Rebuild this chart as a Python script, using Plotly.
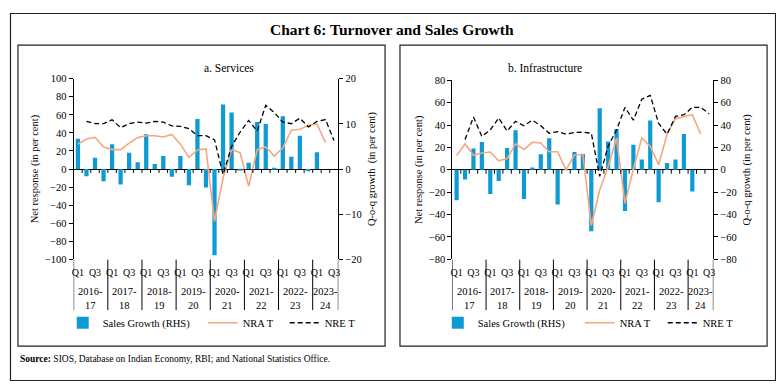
import plotly.graph_objects as go

# ---------------- data ----------------
quarters = ["Q1", "Q2", "Q3", "Q4"] * 7 + ["Q1", "Q2", "Q3"]
years = ["2016-<br>17", "2017-<br>18", "2018-<br>19", "2019-<br>20",
         "2020-<br>21", "2021-<br>22", "2022-<br>23", "2023-<br>24"]

services_sales = [6.7, -1.6, 2.5, -2.7, 5.5, -3.4, 3.6, 1.5, 7.7, 1.1, 2.9, -1.7, 2.9, -3.6, 11.1, -4.1,
                  -19.1, 14.3, 12.5, -0.3, 1.4, 10.4, 10.0, 0.1, 11.7, 2.7, 7.4, -0.5, 3.7, None, None]
services_nra = [27.6, 33.3, 35.1, 24.4, 21.5, 21.5, 28.7, 34.8, 36.9, 36.9, 35.5, 38.4, 27.6, 12.9, 21.1, 22.2,
                -58.0, -10.0, 22.0, 17.9, -19.0, 21.5, 24.4, 14.3, 23.3, 43.0, 44.0, 48.4, 49.8, 29.4, None]
services_nre = [None, 52.7, 50.2, 50.2, 54.5, 45.9, 50.2, 52.0, 50.9, 52.7, 52.0, 47.7, 47.3, 44.8, 36.9, 36.9,
                32.3, -6.0, 25.0, 41.0, 53.8, 42.0, 70.6, 62.7, 52.0, 50.2, 56.3, 46.6, 52.7, 54.8, 31.5]

infra_sales = [-27.2, -8.7, 19.1, 24.9, -21.7, -10.1, 19.4, 35.3, -26.0, 2.0, 13.9, 28.1, -31.0, 0.3, 15.9, 14.2,
               -55.0, 55.0, 25.2, 36.5, -36.7, 22.3, 9.3, 44.0, -28.9, 6.1, 9.3, 32.1, -19.4, None, None]
infra_nra = [12.7, 23.1, 13.0, 15.0, 15.9, 8.1, 10.1, 23.1, 18.2, 24.6, 24.0, 16.2, 16.2, 0.0, 13.3, 13.9,
             -49.8, -18.0, 3.0, 28.4, -30.0, 1.0, 28.4, 21.1, 4.6, 31.8, 45.7, 47.7, 49.2, 31.8, None]
infra_nre = [None, 27.0, 47.2, 29.8, 35.6, 46.3, 34.7, 43.4, 39.4, 44.3, 39.4, 32.7, 34.1, 31.8, 33.3, 33.6,
             32.7, -5.8, 21.1, 35.6, 55.8, 44.3, 63.1, 66.6, 41.4, 31.8, 47.7, 49.2, 55.8, 55.8, 50.0]

BLUE = "#0E9BD3"
ORANGE = "#F5A77F"
FONT = "Liberation Serif"
OFF = 8                       # page margin around the figure
W, H = 784 - OFF, 387 - OFF   # figure size

n = len(quarters)
xs = list(range(n))


def px(x):
    return (x - OFF) / W


def py(y):
    return 1 - (y - OFF) / H


fig = go.Figure()

panels = [
    dict(sales=services_sales, nra=services_nra, nre=services_nre, leg="legend",
         xa="x", ya="y", ya2="y2", dom=[px(72), px(338)], ydom=[py(261.7), py(75.7)],
         lrange=[-100, 100], ldt=20, rrange=[-20, 20], rdt=10, title="a. Services",
         rtitle="Q-o-q growth  (in per cent)", box=[16, 41, 385, 351], legx=61, lw=[95, 37]),
    dict(sales=infra_sales, nra=infra_nra, nre=infra_nre, leg="legend2",
         xa="x2", ya="y3", ya2="y4", dom=[px(452.7), px(715)], ydom=[py(261.7), py(77.3)],
         lrange=[-80, 80], ldt=20, rrange=[-80, 80], rdt=20, title="b. Infrastructure",
         rtitle="Q-o-q growth (in per cent)", box=[400, 41, 769, 351], legx=438, lw=[97, 38]),
]

shapes = []
annotations = []
layout_axes = {}
tfont = dict(family=FONT, size=10.5, color="black")

for i, p in enumerate(panels):
    # bars on RHS axis (primary, drawn underneath), lines on LHS overlaying axis
    fig.add_trace(go.Bar(x=xs, y=p["sales"], name="Sales Growth (RHS)", marker_color=BLUE,
                         marker_line_width=0, width=0.5, xaxis=p["xa"], yaxis=p["ya"],
                         legend=p["leg"], legendwidth=p["lw"][0]))
    fig.add_trace(go.Scatter(x=xs, y=p["nra"], name="NRA T", mode="lines",
                             line=dict(color=ORANGE, width=1.6), xaxis=p["xa"], yaxis=p["ya2"],
                             legend=p["leg"], legendwidth=p["lw"][1]))
    fig.add_trace(go.Scatter(x=xs, y=p["nre"], name="NRE T", mode="lines",
                             line=dict(color="black", width=1.3, dash="5px,3px"), xaxis=p["xa"],
                             yaxis=p["ya2"], legend=p["leg"]))

    xkey = "xaxis" if i == 0 else "xaxis2"
    ykey = "yaxis" + ("" if i == 0 else "3")
    y2key = "yaxis" + ("2" if i == 0 else "4")

    tickvals = [k for k in xs if quarters[k] in ("Q1", "Q3")]
    layout_axes[xkey] = dict(domain=p["dom"], anchor=p["ya"], range=[-0.5, n - 0.5],
                             tickvals=tickvals, ticktext=[quarters[k] for k in tickvals],
                             showgrid=False, zeroline=False, showline=False, ticks="",
                             ticklabelstandoff=6,
                             tickfont=dict(family=FONT, size=10, color="black"))
    rvals = list(range(p["rrange"][0], p["rrange"][1] + 1, p["rdt"]))
    lvals = list(range(p["lrange"][0], p["lrange"][1] + 1, p["ldt"]))
    layout_axes[ykey] = dict(domain=p["ydom"], anchor=p["xa"], side="right", range=p["rrange"],
                             tickvals=rvals, showgrid=False, zeroline=False, showline=True,
                             linecolor="black", linewidth=1, ticks="outside", ticklen=4,
                             tickcolor="black", tickfont=tfont,
                             title=dict(text=p["rtitle"], font=tfont, standoff=6))
    layout_axes[y2key] = dict(overlaying=p["ya"], anchor=p["xa"], side="left", range=p["lrange"],
                              tickvals=lvals, showgrid=False, zeroline=True, zerolinecolor="black",
                              zerolinewidth=1, showline=True, linecolor="black", linewidth=1,
                              ticks="outside", ticklen=4, tickcolor="black", tickfont=tfont,
                              title=dict(text="Net response (in per cent)", font=tfont, standoff=4))

    # small ticks on the zero line at quarter boundaries
    span = p["lrange"][1] - p["lrange"][0]
    tick_len = 4 * span / ((p["ydom"][1] - p["ydom"][0]) * H)
    for k in range(n - 1):
        shapes.append(dict(type="line", xref=p["xa"], yref=p["ya2"], x0=k + 0.5, x1=k + 0.5,
                           y0=0, y1=-tick_len, line=dict(color="black", width=1)))
    # year separators below the axis
    bounds = [-0.5] + [k - 0.5 for k in xs if quarters[k] == "Q1" and k > 0] + [n - 0.5]
    for b in bounds:
        shapes.append(dict(type="line", xref=p["xa"], yref="paper", x0=b, x1=b,
                           y0=py(262), y1=py(314), line=dict(color="black", width=1)))
    for j, yr in enumerate(years):
        c = (bounds[j] + bounds[j + 1]) / 2
        annotations.append(dict(text=yr, x=c, y=py(302), xref=p["xa"], yref="paper",
                                yanchor="middle", showarrow=False, font=tfont, align="center"))
    # panel box and title
    bx = p["box"]
    shapes.append(dict(type="rect", xref="paper", yref="paper", x0=px(bx[0]), x1=px(bx[2]),
                       y0=py(bx[3]), y1=py(bx[1]), line=dict(color="#222", width=1.2)))
    annotations.append(dict(text=p["title"], x=px((bx[0] + bx[2]) / 2), y=py(65), xref="paper",
                            yref="paper", yanchor="middle", showarrow=False,
                            font=dict(family=FONT, size=11.5, color="black")))

# outer box
shapes.append(dict(type="rect", xref="paper", yref="paper", x0=0.5 / W, x1=1 - 6.5 / W,
                   y0=0.5 / H, y1=1 - 0.5 / H, line=dict(color="#222", width=1.2)))
annotations.append(dict(text="<b>Chart 6: Turnover and Sales Growth</b>", x=px(392), y=py(25),
                        xref="paper", yref="paper", yanchor="middle", showarrow=False,
                        font=dict(family=FONT, size=15.5, color="black")))
annotations.append(dict(text="<b>Source:</b> SIOS, Database on Indian Economy, RBI; and National Statistics Office.",
                        x=px(16), y=py(364), xref="paper", yref="paper", xanchor="left",
                        yanchor="middle", showarrow=False,
                        font=dict(family=FONT, size=9.5, color="black")))

legend_common = dict(orientation="h", yanchor="middle", y=py(327), xanchor="left",
                     font=dict(family=FONT, size=10.5, color="black"), bgcolor="rgba(0,0,0,0)",
                     itemsizing="trace", tracegroupgap=0)

fig.update_layout(
    width=W, height=H, margin=dict(l=0, r=0, t=0, b=0),
    paper_bgcolor="white", plot_bgcolor="white",
    showlegend=True, barmode="overlay",
    legend=dict(x=px(panels[0]["legx"]), **legend_common),
    legend2=dict(x=px(panels[1]["legx"]), **legend_common),
    shapes=shapes, annotations=annotations,
    **layout_axes,
)

fig.write_html("out.html")
